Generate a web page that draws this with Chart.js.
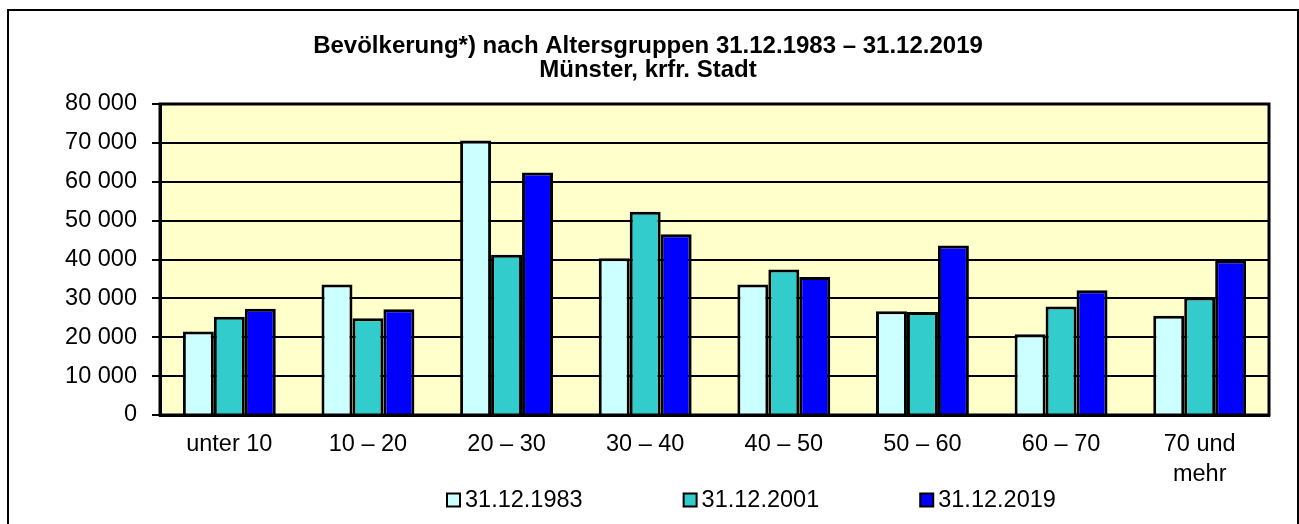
<!DOCTYPE html>
<html>
<head>
<meta charset="utf-8">
<script src="https://cdn.jsdelivr.net/npm/chart.js@4.4.1/dist/chart.umd.min.js"></script>
<style>
  html, body { margin: 0; padding: 0; background: #ffffff; }
  #wrap { position: relative; width: 1299px; height: 524px; overflow: hidden; }
  #frame { position: absolute; left: 7px; top: 9px; width: 1288px; height: 600px; border: 2px solid #000; box-sizing: content-box; pointer-events: none; }
  canvas { display: block; }
</style>
</head>
<body>
<div id="wrap">
  <canvas id="c" width="1299" height="524"></canvas>
  <div id="frame"></div>
</div>
<script>
// ---- data ----
const categories = ['unter 10', '10 – 20', '20 – 30', '30 – 40', '40 – 50', '50 – 60', '60 – 70', ['70 und', 'mehr']];
const seriesNames = ['31.12.1983', '31.12.2001', '31.12.2019'];
const values1983 = [21500, 33600, 70600, 40300, 33600, 26700, 20800, 25500];
const values2001 = [25300, 24900, 41200, 52300, 37400, 26500, 27900, 30200];
const values2019 = [27300, 27200, 62400, 46500, 35500, 43600, 32100, 39800];
const titleLines = ['Bevölkerung*) nach Altersgruppen 31.12.1983 – 31.12.2019', 'Münster, krfr. Stadt'];
const yMin = 0, yMax = 80000, yStep = 10000;

const FONT = "'Liberation Sans', Arial, sans-serif";
const colors = ['#CCFFFF', '#33CCCC', '#0000FF'];

Chart.defaults.font.family = FONT;
Chart.defaults.color = '#000';

function fmt(v) {
  return String(v).replace(/\B(?=(\d{3})+(?!\d))/g, ' ');
}

const plotBg = {
  id: 'plotBg',
  beforeDraw(chart) {
    const {ctx, chartArea: a} = chart;
    ctx.save();
    ctx.fillStyle = '#FFFFCC';
    ctx.fillRect(a.left, a.top, a.right - a.left, a.bottom - a.top);
    ctx.restore();
  },
  afterDatasetsDraw(chart) {
    const {ctx, chartArea: a} = chart;
    ctx.save();
    ctx.strokeStyle = '#000';
    ctx.lineWidth = 3;
    ctx.strokeRect(a.left, a.top, a.right - a.left, a.bottom - a.top);
    ctx.restore();
  }
};

const customLegend = {
  id: 'customLegend',
  afterDraw(chart, args, opts) {
    const {ctx} = chart;
    const ds = chart.data.datasets;
    ctx.save();
    ctx.font = opts.fontSize + 'px ' + FONT;
    ctx.textBaseline = 'middle';
    ctx.textAlign = 'left';
    let x = opts.startX;
    const y = opts.centerY;
    const b = opts.box;
    ds.forEach((d) => {
      ctx.fillStyle = d.backgroundColor;
      ctx.fillRect(x, y - b / 2, b, b);
      ctx.strokeStyle = '#000';
      ctx.lineWidth = 2;
      ctx.strokeRect(x, y - b / 2, b, b);
      ctx.fillStyle = '#000';
      const tx = x + b + opts.gap;
      ctx.fillText(d.label, tx, y + 1);
      x = tx + ctx.measureText(d.label).width + opts.spacing;
    });
    ctx.restore();
  }
};

new Chart(document.getElementById('c'), {
  type: 'bar',
  data: {
    labels: categories,
    datasets: [
      { label: seriesNames[0], data: values1983, backgroundColor: colors[0] },
      { label: seriesNames[1], data: values2001, backgroundColor: colors[1] },
      { label: seriesNames[2], data: values2019, backgroundColor: colors[2] }
    ]
  },
  options: {
    responsive: false,
    animation: false,
    devicePixelRatio: 1,
    layout: { padding: { left: 0, right: 3, top: 0, bottom: 34 } },
    datasets: {
      bar: {
        borderColor: '#000',
        borderWidth: 3,
        categoryPercentage: 0.67,
        barPercentage: 1.0
      }
    },
    plugins: {
      legend: { display: false },
      tooltip: { enabled: false },
      title: {
        display: true,
        text: titleLines,
        color: '#000',
        font: { family: FONT, size: 24, weight: 'bold', lineHeight: 1.0 },
        padding: { top: 34, bottom: 22 }
      },
      customLegend: { startX: 447, centerY: 500, box: 13, gap: 5, spacing: 101, fontSize: 23.5 }
    },
    scales: {
      x: {
        grid: { display: false, drawTicks: false },
        border: { display: true, color: '#000', width: 3 },
        ticks: { color: '#000', font: { size: 23.5, lineHeight: 1.25 }, padding: 15, maxRotation: 0, autoSkip: false },
        afterFit(scale) { scale.height = 75; }
      },
      y: {
        min: yMin,
        max: yMax,
        grid: { color: '#000', lineWidth: 2, tickLength: 8, tickColor: '#000', tickWidth: 2, drawTicks: true },
        border: { display: true, color: '#000', width: 3 },
        ticks: { stepSize: yStep, color: '#000', font: { size: 23.5 }, padding: 15, callback: (v) => fmt(v) },
        afterFit(scale) { scale.width = 160; }
      },
      yRightSpace: {
        position: 'right',
        display: true,
        grid: { display: false, drawTicks: false },
        border: { display: false },
        ticks: { display: false },
        afterFit(scale) { scale.width = 27; }
      }
    }
  },
  plugins: [plotBg, customLegend]
});
</script>
</body>
</html>
